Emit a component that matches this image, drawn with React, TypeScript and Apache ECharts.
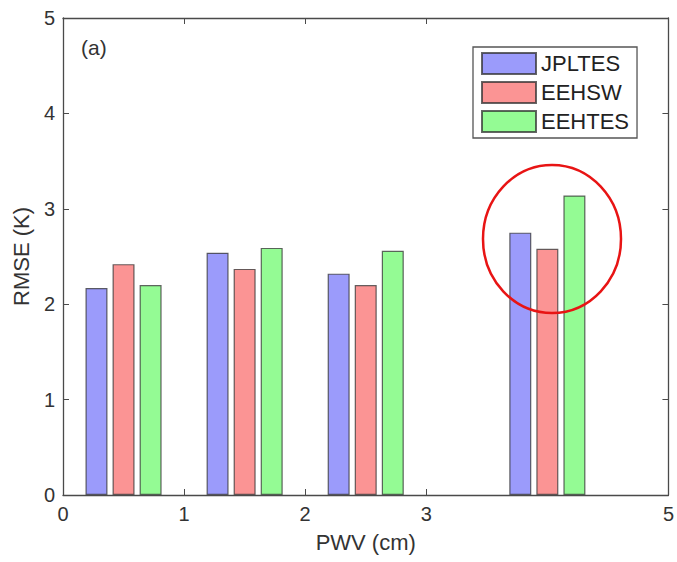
import React, { useEffect, useRef } from "react";
import * as echarts from "echarts";

const groupPositions = [0.5, 1.5, 2.5, 4];
const seriesNames = ["JPLTES", "EEHSW", "EEHTES"];
const jpltes = [2.17, 2.54, 2.32, 2.75];
const eehsw = [2.42, 2.37, 2.2, 2.58];
const eehtes = [2.2, 2.59, 2.56, 3.14];
const xTickValues = [0, 1, 2, 3, 5];
const seriesColors = ["#9b9bfb", "#fb9494", "#94fb94"];
const panelLabel = "(a)";
const xName = "PWV (cm)";
const yName = "RMSE (K)";

const FONT = "Liberation Sans, Arial, Helvetica, sans-serif";
const AXIS_COLOR = "#4a4a4a";

export default function App() {
  const ref = useRef<HTMLDivElement>(null);
  useEffect(() => {
    if (!ref.current) return;
    const chart = echarts.init(ref.current, null, { renderer: "svg" });
    const values = [jpltes, eehsw, eehtes];
    const axisLine = { show: true, onZero: false, lineStyle: { color: AXIS_COLOR, width: 1.3 } };
    chart.setOption({
      animation: false,
      backgroundColor: "#ffffff",
      textStyle: { fontFamily: FONT },
      grid: { left: 63, right: 7, top: 18, bottom: 67 },
      legend: {
        orient: "vertical",
        left: 473,
        top: 47,
        padding: [5, 8, 5, 8],
        itemGap: 6,
        itemWidth: 54,
        itemHeight: 21,
        icon: "rect",
        borderColor: "#555",
        borderWidth: 1.3,
        backgroundColor: "#fff",
        textStyle: { fontSize: 22, color: "#222", fontFamily: FONT, lineHeight: 21 },
        data: seriesNames,
      },
      xAxis: [
        {
          type: "value",
          min: 0,
          max: 5,
          interval: 1,
          name: xName,
          nameLocation: "middle",
          nameGap: 36,
          nameTextStyle: { fontSize: 22, color: "#333", fontFamily: FONT },
          axisLine,
          axisTick: { show: true, inside: true, length: 6, lineStyle: { color: AXIS_COLOR }, customValues: xTickValues },
          axisLabel: { fontSize: 20, color: "#333", margin: 9, fontFamily: FONT, customValues: xTickValues },
          splitLine: { show: false },
        },
        {
          type: "value",
          position: "top",
          min: 0,
          max: 5,
          interval: 1,
          axisLine,
          axisTick: { show: true, inside: true, length: 6, lineStyle: { color: AXIS_COLOR }, customValues: xTickValues },
          axisLabel: { show: false },
          splitLine: { show: false },
        },
      ],
      yAxis: [
        {
          type: "value",
          min: 0,
          max: 5,
          interval: 1,
          name: yName,
          nameLocation: "middle",
          nameGap: 30,
          nameTextStyle: { fontSize: 22, color: "#333", fontFamily: FONT },
          axisLine,
          axisTick: { show: true, inside: true, length: 6, lineStyle: { color: AXIS_COLOR } },
          axisLabel: { fontSize: 20, color: "#333", margin: 8, fontFamily: FONT },
          splitLine: { show: false },
        },
        {
          type: "value",
          position: "right",
          min: 0,
          max: 5,
          interval: 1,
          axisLine,
          axisTick: { show: true, inside: true, length: 6, lineStyle: { color: AXIS_COLOR } },
          axisLabel: { show: false },
          splitLine: { show: false },
        },
      ],
      series: seriesNames.map((name, i) => ({
        name,
        type: "bar",
        xAxisIndex: 0,
        yAxisIndex: 0,
        barWidth: 22,
        barGap: "23%",
        itemStyle: {
          color: seriesColors[i],
          borderColor: "rgba(50,50,50,0.75)",
          borderWidth: 1.2,
        },
        data: groupPositions.map((x, j) => [x, values[i][j]]),
      })),
      graphic: [
        {
          type: "text",
          left: 81,
          top: 37,
          style: { text: panelLabel, fontSize: 21, fill: "#333", fontFamily: FONT },
        },
        {
          type: "ellipse",
          shape: { cx: 552, cy: 239, rx: 69, ry: 74 },
          style: { fill: "none", stroke: "#e81414", lineWidth: 2.5 },
          z: 100,
        },
      ],
    });
    return () => chart.dispose();
  }, []);
  return <div ref={ref} style={{ width: 677, height: 562, position: "absolute", left: 0, top: 0 }} />;
}
